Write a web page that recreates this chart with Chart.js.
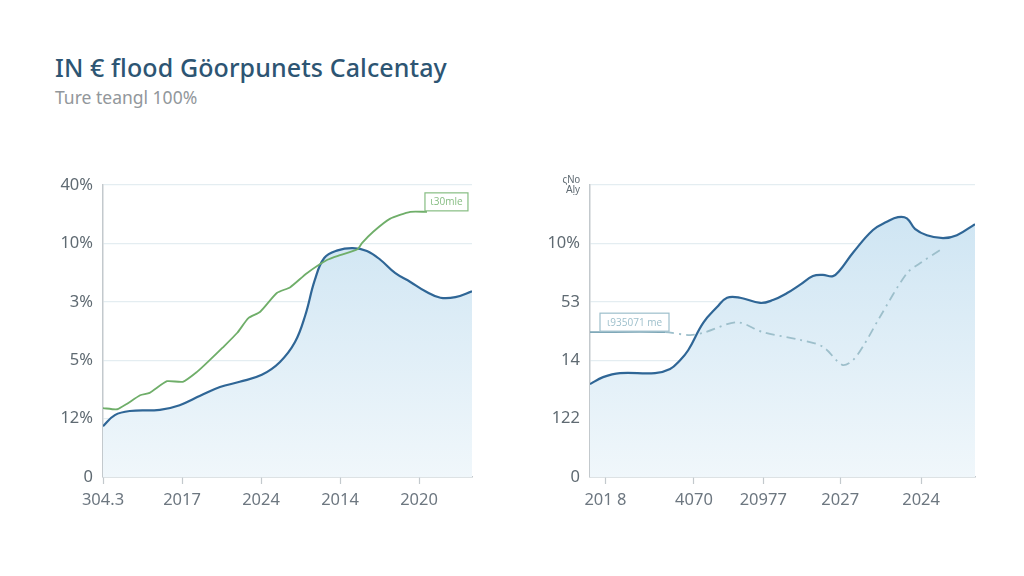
<!DOCTYPE html>
<html>
<head>
<meta charset="utf-8">
<script src="https://cdn.jsdelivr.net/npm/chart.js@4.4.1/dist/chart.umd.min.js"></script>
<style>
  body { margin: 0; width: 1024px; height: 576px; background: #fff; font-family: "Noto Sans", "Open Sans", sans-serif; overflow: hidden; position: relative; }
  h1 { position: absolute; left: 55px; top: 50px; margin: 0; font-family: "Noto Sans", sans-serif; font-size: 25px; font-weight: 500; color: #2d5573; letter-spacing: 0.1px; }
  .sub { position: absolute; left: 55px; top: 85px; font-size: 17.5px; color: #92979b; font-family: "Noto Sans", sans-serif; }
  .box { position: absolute; }
</style>
</head>
<body>
<h1>IN € flood Göorpunets Calcentay</h1>
<div class="sub">Ture teangl 100%</div>
<div class="box" style="left:40px;top:160px;width:450px;height:370px"><canvas id="left" width="450" height="370"></canvas></div>
<div class="box" style="left:540px;top:160px;width:470px;height:370px"><canvas id="right" width="470" height="370"></canvas></div>
<script>
// left panel
const leftTickLabels = ['0', '12%', '5%', '3%', '10%', '40%'];
const leftXTicks = [0, 1, 2, 3, 4];
const leftXLabels = ['304.3', '2017', '2024', '2014', '2020'];
const leftBlue = [
  [0, 0.87], [0.15, 1.06], [0.34, 1.13], [0.72, 1.15], [0.97, 1.23], [1.23, 1.39], [1.48, 1.54],
  [1.73, 1.63], [2.01, 1.75], [2.24, 1.97], [2.43, 2.31], [2.56, 2.77], [2.68, 3.37], [2.80, 3.75],
  [2.97, 3.88], [3.16, 3.92], [3.34, 3.87], [3.51, 3.72], [3.70, 3.49], [3.89, 3.34], [4.08, 3.18],
  [4.27, 3.07], [4.46, 3.08], [4.67, 3.18]
];
const leftGreen = [
  [0, 1.18], [0.18, 1.16], [0.30, 1.25], [0.47, 1.40], [0.59, 1.44], [0.81, 1.64], [1.01, 1.63],
  [1.19, 1.80], [1.35, 2.00], [1.51, 2.21], [1.70, 2.47], [1.84, 2.72], [1.99, 2.83], [2.20, 3.15],
  [2.37, 3.25], [2.58, 3.49], [2.84, 3.72], [3.00, 3.80], [3.22, 3.90], [3.28, 4.01], [3.42, 4.20],
  [3.63, 4.42], [3.89, 4.54], [4.10, 4.54]
];
const leftTag = 'ι30mle';

// right panel
const rightTickLabels = ['0', '122', '14', '53', '10%', ['ςNo', 'Aḷy']];
const rightXTicks = [4, 27, 45, 65, 86];
const rightXLabels = ['201 8', '4070', '20977', '2027', '2024'];
const rightBlue = [
  [0, 1.59], [3.4, 1.71], [7.8, 1.78], [16.9, 1.78], [20.8, 1.85], [23.4, 2.00], [25.5, 2.17],
  [29.4, 2.64], [33.0, 2.91], [35.6, 3.07], [39.0, 3.07], [44.2, 2.98], [47.5, 3.03], [51.2, 3.15],
  [54.5, 3.29], [57.9, 3.44], [60.5, 3.46], [63.1, 3.44], [64.9, 3.54], [68.3, 3.84], [73.5, 4.23],
  [77.1, 4.37], [80.0, 4.45], [82.3, 4.43], [84.4, 4.25], [87.5, 4.14], [91.7, 4.09], [95.3, 4.14],
  [100, 4.33]
];
const rightDash = [
  [0, 2.48], [19.5, 2.48], [26.0, 2.43], [29.9, 2.48], [38.2, 2.65], [44.9, 2.48], [54.5, 2.35],
  [60.5, 2.23], [65.5, 1.92], [68.3, 2.00], [71.4, 2.29], [75.3, 2.74], [82.3, 3.49], [85.7, 3.66],
  [91.7, 3.92]
];
const rightTag = 'ι935071 me';

const pts = arr => arr.map(p => ({ x: p[0], y: p[1] }));

function areaFill(ctx) {
  const area = ctx.chart.chartArea;
  if (!area) return 'rgba(200,225,240,0.6)';
  const g = ctx.chart.ctx.createLinearGradient(0, area.top, 0, area.bottom);
  g.addColorStop(0, '#cbe3f2');
  g.addColorStop(1, '#f0f7fb');
  return g;
}

// small boxed tag anchored to a data point
function tagPlugin(dsIndex, pointIndex, text, color, dx, dy, w) {
  return {
    id: 'tag',
    afterDatasetsDraw(chart) {
      const el = chart.getDatasetMeta(dsIndex).data[pointIndex];
      const c = chart.ctx;
      c.save();
      const x = el.x + dx, y = el.y + dy;
      c.strokeStyle = color;
      c.lineWidth = 1.2;
      c.fillStyle = '#ffffff';
      c.fillRect(x, y, w, 18);
      c.strokeRect(x, y, w, 18);
      c.fillStyle = color;
      c.font = '10px "Open Sans", sans-serif';
      c.textAlign = 'center';
      c.textBaseline = 'middle';
      c.fillText(text, x + w / 2, y + 9.5);
      c.restore();
    }
  };
}

function makeOptions(cfg) {
  return {
    responsive: false,
    animation: false,
    layout: { padding: { top: 25, right: cfg.padRight, left: 0, bottom: 0 } },
    plugins: { legend: { display: false }, tooltip: { enabled: false } },
    elements: { point: { radius: 0 } },
    scales: {
      x: {
        type: 'linear',
        min: cfg.xMin, max: cfg.xMax,
        afterBuildTicks: s => { s.ticks = cfg.xTicks.map(v => ({ value: v })); },
        afterFit: s => { s.height = 53; },
        ticks: {
          callback: (v, i) => cfg.xLabels[i],
          color: '#6d7780',
          font: { size: 16.5, family: '"Noto Sans", "Open Sans", sans-serif' },
          padding: 6,
          maxRotation: 0, autoSkip: false
        },
        grid: { drawOnChartArea: false, color: '#c3c9cd', tickLength: 7, tickWidth: 1.2 },
        border: { color: '#c3c9cd', width: 1.5 }
      },
      y: {
        type: 'linear',
        min: 0, max: 5,
        afterBuildTicks: s => { s.ticks = [0, 1, 2, 3, 4, 5].map(v => ({ value: v })); },
        afterFit: s => { s.width = cfg.yWidth; },
        ticks: {
          callback: (v, i) => cfg.yLabels[i],
          color: '#5f6a72',
          font: ctx => (Array.isArray(cfg.yLabels[ctx.index]) ? { size: 10, lineHeight: 1 } : { size: 16.5, family: '"Noto Sans", "Open Sans", sans-serif' }),
          padding: 10
        },
        grid: { color: '#e4edf1', lineWidth: 1.2, drawTicks: false },
        border: { color: '#c3c9cd', width: 1.5 }
      }
    }
  };
}

new Chart(document.getElementById('left'), {
  type: 'line',
  data: {
    datasets: [
      { data: pts(leftBlue), order: 1, borderColor: '#2f6696', borderWidth: 2.2, tension: 0.4, fill: 'origin', backgroundColor: areaFill },
      { data: pts(leftGreen), order: 0, borderColor: '#6fae69', borderWidth: 1.8, tension: 0.2, fill: false }
    ]
  },
  options: makeOptions({ xMin: 0, xMax: 4.67, xTicks: leftXTicks, xLabels: leftXLabels, yLabels: leftTickLabels, yWidth: 63, padRight: 18 }),
  plugins: [tagPlugin(1, leftGreen.length - 1, leftTag, '#86bd82', -2, -19, 43)]
});

new Chart(document.getElementById('right'), {
  type: 'line',
  data: {
    datasets: [
      { data: pts(rightBlue), order: 1, borderColor: '#2f6696', borderWidth: 2.2, tension: 0.4, fill: 'origin', backgroundColor: areaFill },
      {
        data: pts(rightDash), order: 0, borderColor: '#9dbfcb', borderWidth: 1.8, tension: 0.3, fill: false,
        segment: {
          borderDash: ctx => (ctx.p0DataIndex === 0 ? [] : [9, 5, 2, 5]),
          borderColor: ctx => (ctx.p0DataIndex === 0 ? '#7fa8b8' : '#9dbfcb')
        }
      }
    ]
  },
  options: makeOptions({ xMin: 0, xMax: 100, xTicks: rightXTicks, xLabels: rightXLabels, yLabels: rightTickLabels, yWidth: 50, padRight: 35 }),
  plugins: [tagPlugin(1, 0, rightTag, '#9dbfcb', 10, -19, 69)]
});
</script>
</body>
</html>
